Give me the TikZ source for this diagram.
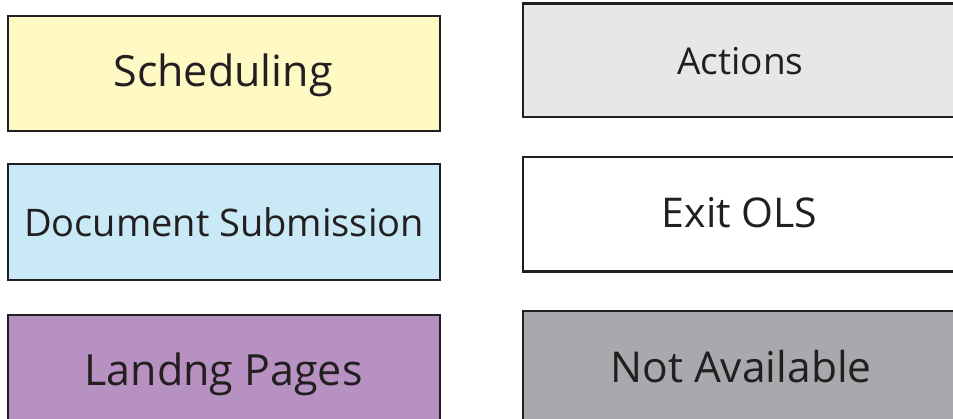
\documentclass[tikz,border=0pt]{standalone}
\usepackage{fontspec}
\setmainfont{Open Sans}
\definecolor{ink}{HTML}{231F20}
\definecolor{schedfill}{HTML}{FFF9C4}
\definecolor{docfill}{HTML}{C8E9F5}
\definecolor{landfill}{HTML}{B891C3}
\definecolor{actfill}{HTML}{E6E7E8}
\definecolor{notfill}{HTML}{A7A9AC}
\tikzset{
  legbox/.style={draw=ink, line width=2.2pt, rectangle},
  lbl/.style={anchor=base, text=ink, inner sep=0pt},
}
\newcommand{\fs}[1]{\fontsize{#1}{#1}\selectfont}
\begin{document}
\begin{tikzpicture}[x=1pt,y=1pt]
\useasboundingbox (0,0) rectangle (953,418);
% left column
\path[legbox, fill=schedfill] (8,402) rectangle (440,287) coordinate (schedbox);
\path[legbox, fill=docfill] (8,254) rectangle (440,138) coordinate (docbox);
\path[legbox, fill=landfill] (8,103) rectangle (440,-13) coordinate (landbox);
% right column
\path[legbox, fill=actfill] (523,414.5) rectangle (958,301) coordinate (actbox);
\path[legbox, fill=white] (523,261) rectangle (958,146.5) coordinate (exitbox);
\path[legbox, fill=notfill] (523,107) rectangle (958,-7) coordinate (notbox);
% labels
\node[lbl] (sched) at (223,331.3) {\fs{43}Scheduling};
\node[lbl] (doc) at (224,181) {\fs{38}Document Submission};
\node[lbl] (land) at (223.5,33) {\fs{43}Landng Pages};
\node[lbl] (act) at (740.5,343) {\fs{37}Actions};
\node[lbl] (exit) at (739.5,190) {\fs{41}Exit OLS};
\node[lbl] (notav) at (741,36) {\fs{42.5}Not Available};
\end{tikzpicture}
\end{document}
